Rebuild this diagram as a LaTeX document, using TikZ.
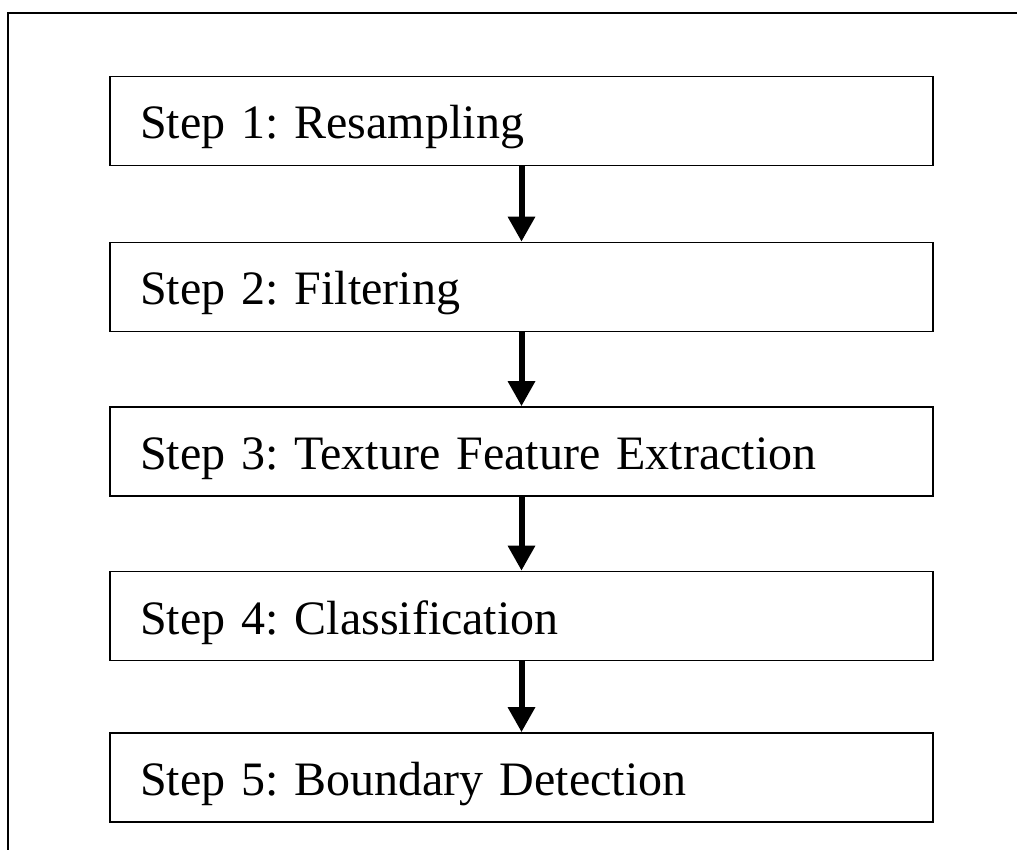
\documentclass[tikz,border=0pt]{standalone}
\usepackage{fontspec}
\setmainfont{Liberation Serif}
\usetikzlibrary{arrows.meta}
\frenchspacing
\begin{document}
\begin{tikzpicture}[x=1pt,y=-1pt,
  stepbox/.style={draw=black, line width=1.6pt, minimum width=823pt, minimum height=89pt,
    text width=763pt, inner xsep=30pt, align=left, text height=36pt, text depth=0pt,
    font=\fontsize{48}{58}\selectfont\frenchspacing},
  flow/.style={line width=6pt, -{Triangle[width=26pt,length=25pt]}}]
\useasboundingbox (0,0) rectangle (1017,850);
\draw[line width=1.8pt] (1030,13) -- (8,13) -- (8,870);
\node[stepbox] (s1) at (521.5,121) {Step 1: Resampling};
\node[stepbox] (s2) at (521.5,287) {Step 2: Filtering};
\node[stepbox] (s3) at (521.5,451.5) {Step 3: Texture Feature Extraction};
\node[stepbox] (s4) at (521.5,616) {Step 4: Classification};
\node[stepbox] (s5) at (521.5,777.5) {Step 5: Boundary Detection};
\draw[flow] (s1.south) -- (s2.north);
\draw[flow] (s2.south) -- (s3.north);
\draw[flow] (s3.south) -- (s4.north);
\draw[flow] (s4.south) -- (s5.north);
\end{tikzpicture}
\end{document}
